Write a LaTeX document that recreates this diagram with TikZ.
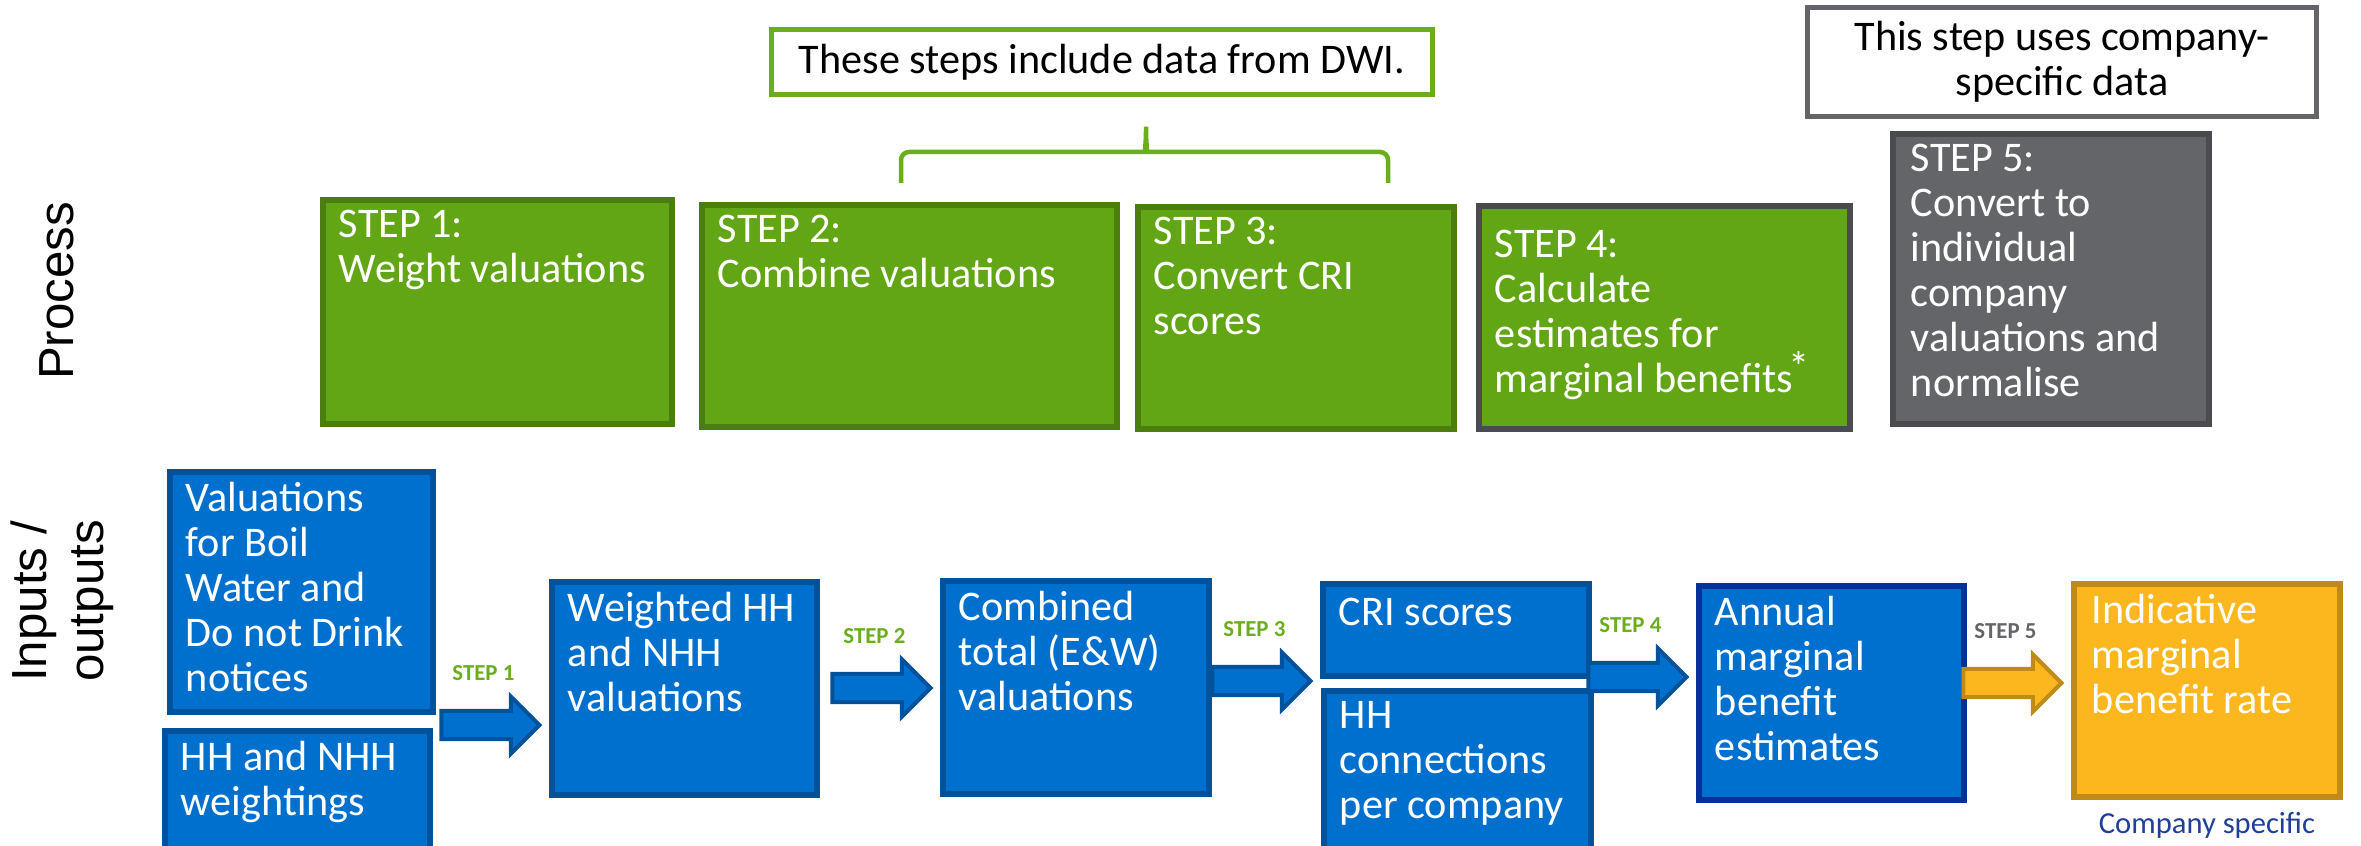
\documentclass[tikz,border=0pt]{standalone}
\usepackage{fontspec}
\setmainfont{Carlito}
\newfontfamily\sidefont{Liberation Sans}
\usetikzlibrary{positioning,fit,shapes.arrows}

\definecolor{stepgreen}{RGB}{99,166,21}
\definecolor{stepgreenline}{RGB}{74,126,14}
\definecolor{notegreen}{RGB}{106,174,30}
\definecolor{ioblue}{RGB}{0,112,206}
\definecolor{iobline}{RGB}{0,82,155}
\definecolor{navyline}{RGB}{0,51,153}
\definecolor{stepgray}{RGB}{100,101,105}
\definecolor{stepgrayline}{RGB}{74,75,79}
\definecolor{rateorange}{RGB}{253,183,30}
\definecolor{rateline}{RGB}{191,138,24}
\definecolor{cotext}{RGB}{31,63,154}

\tikzset{
  box/.style={inner sep=0pt, line width=0.055cm},
  greenbox/.style={box, fill=stepgreen, draw=stepgreenline},
  graybox/.style={box, fill=stepgray, draw=stepgrayline},
  bluebox/.style={box, fill=ioblue, draw=iobline},
  ratebox/.style={box, fill=rateorange, draw=rateline},
  notebox/.style={draw, line width=0.05cm, fill=white, inner sep=0pt,
    font=\fontsize{12}{12.8}\selectfont},
  boxtext/.style={anchor=north west, inner sep=0pt, text=white, align=left,
    font=\fontsize{12}{12.8}\selectfont, execute at begin node=\strut},
  sidelabel/.style={inner sep=0pt, rotate=90, align=left,
    font=\sidefont\fontsize{14}{16.2}\selectfont},
  steparrow/.style={single arrow, inner xsep=0pt, inner ysep=0.12cm, anchor=tip,
    minimum height=0.98cm, single arrow head extend=0.145cm,
    single arrow tip angle=90, line width=0.04cm, fill=ioblue, draw=iobline},
  steplabel/.style={inner sep=0pt, text=notegreen,
    font=\fontsize{6.5}{7}\selectfont\bfseries},
}

\begin{document}
\begin{tikzpicture}[x=0.01cm,y=-0.01cm]
  \useasboundingbox (0,0) rectangle (2361,846);

  % row labels
  \node[sidelabel] (proc) at (57,291) {Process};
  \node[sidelabel] (io) at (62,601) {Inputs /\\outputs};

  % notes
  \node[notebox, draw=notegreen, minimum width=6.6cm, minimum height=0.65cm] (dwi) at (1102,62) {These steps include data from DWI.};
  \node[notebox, draw=stepgray, minimum width=5.09cm, minimum height=1.08cm, align=center] (co) at (2062,62) {This step uses company-\\specific data};
  \draw[notegreen, line width=0.045cm, rounded corners=0.08cm]
    (901,183) |- (1138,152) .. controls (1144,152) and (1146,146) .. (1146,122)
    .. controls (1146,146) and (1148,152) .. (1154,152) -| (1388,183);

  % process
  \node[greenbox, fit={(323,200) (672,424)}] (s1) {};
  \node[greenbox, fit={(702,205) (1117,427)}] (s2) {};
  \node[greenbox, fit={(1138,207) (1454,429)}] (s3) {};
  \node[greenbox, draw=stepgrayline, fit={(1479,206) (1850,429)}] (s4) {};
  \node[graybox, fit={(1893,134) (2209,424)}] (s5) {};
  \node[boxtext] (s1t) at ([shift={(0.18cm,-0.12cm)}]s1.north west) {STEP 1:\\Weight valuations};
  \node[boxtext] (s2t) at ([shift={(0.18cm,-0.12cm)}]s2.north west) {STEP 2:\\Combine valuations};
  \node[boxtext] (s3t) at ([shift={(0.18cm,-0.12cm)}]s3.north west) {STEP 3:\\Convert CRI\\scores};
  \node[boxtext] (s4t) at ([shift={(0.18cm,-0.26cm)}]s4.north west) {STEP 4:\\Calculate\\estimates for\\marginal benefits\kern-0.12em\raisebox{0.25em}{*}};
  \node[boxtext] (s5t) at ([shift={(0.2cm,-0.12cm)}]s5.north west) {STEP 5:\\Convert to\\individual\\company\\valuations and\\normalise};

  % inputs / outputs
  \node[bluebox, fit={(170,472) (433,712)}] (v1) {};
  \node[bluebox, fit={(165,731) (430,860)}] (v2) {};
  \node[bluebox, fit={(552,582) (817,795)}] (w1) {};
  \node[bluebox, fit={(943,581) (1209,794)}] (c1) {};
  \node[bluebox, fit={(1323,584) (1589,676)}] (r1) {};
  \node[bluebox, fit={(1324,691) (1591,860)}] (r2) {};
  \node[bluebox, draw=navyline, fit={(1699,586) (1964,800)}] (e1) {};
  \node[ratebox, fit={(2074,584) (2340,797)}] (i1) {};
  \node[boxtext] (v1t) at ([shift={(0.18cm,-0.12cm)}]v1.north west) {Valuations\\for Boil\\Water and\\Do not Drink\\notices};
  \node[boxtext] (v2t) at ([shift={(0.18cm,-0.12cm)}]v2.north west) {HH and NHH\\weightings};
  \node[boxtext] (w1t) at ([shift={(0.18cm,-0.12cm)}]w1.north west) {Weighted HH\\and NHH\\valuations};
  \node[boxtext] (c1t) at ([shift={(0.18cm,-0.12cm)}]c1.north west) {Combined\\total (E\&W)\\valuations};
  \node[boxtext] (r1t) at ([shift={(0.18cm,-0.12cm)}]r1.north west) {CRI scores};
  \node[boxtext] (r2t) at ([shift={(0.18cm,-0.12cm)}]r2.north west) {HH\\connections\\per company};
  \node[boxtext] (e1t) at ([shift={(0.18cm,-0.12cm)}]e1.north west) {Annual\\marginal\\benefit\\estimates};
  \node[boxtext] (i1t) at ([shift={(0.2cm,-0.12cm)}]i1.north west) {Indicative\\marginal\\benefit rate};
  \node[inner sep=0pt, text=cotext, font=\fontsize{8.7}{10}\selectfont, below=0.12cm of i1] (cos) {Company specific};

  % step arrows
  \foreach \dst/\y/\n in {w1/725/1, c1/688/2, r1/681/3, e1/677/4} {
    \node[steparrow] (a\n) at ([xshift=-0.07cm]\dst.west |- 0,\y) {};
    \node[steplabel, above=0.28cm of a\n] (l\n) {STEP \n};
  }
  \node[steparrow, fill=rateorange, draw=rateline] (a5) at ([xshift=-0.07cm]i1.west |- 0,683) {};
  \node[steplabel, text=stepgray, above=0.28cm of a5] (l5) {STEP 5};
\end{tikzpicture}
\end{document}
